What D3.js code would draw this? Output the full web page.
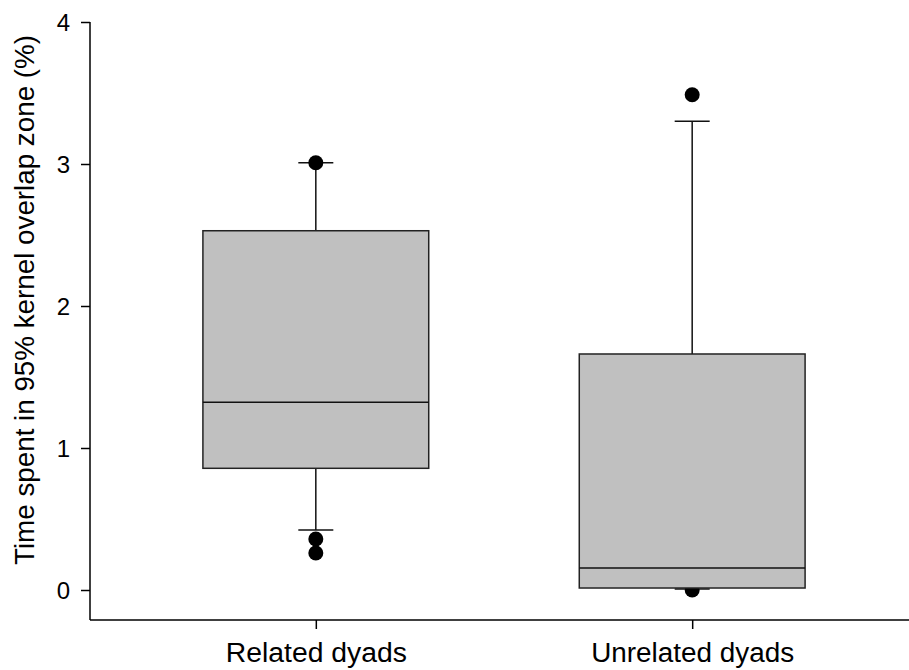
<!DOCTYPE html>
<meta charset="utf-8">
<style>
  body { margin: 0; background: #fff; }
  text { font-family: "Liberation Sans", Arial, sans-serif; fill: #000; }
</style>
<svg></svg>
<script src="https://cdn.jsdelivr.net/npm/d3@7/dist/d3.min.js"></script>
<script>

var groups = ['Related dyads', 'Unrelated dyads']
var groupLabelWidths = [181, 203]
var q1 = [0.857, 0.014]
var medians = [1.322, 0.155]
var q3 = [2.530, 1.662]
var whiskerLow = [0.423, 0.007]
var whiskerHigh = [3.009, 3.301]
var outliers = [[3.009, 0.359, 0.261], [3.488, 0.0]]
var yTicks = [0, 1, 2, 3, 4]

var width = 909,
    height = 670

var svg = d3.select('svg')
            .attr('width', width)
            .attr('height', height)

var x = d3.scalePoint().domain(groups).range([90, 918]).padding(0.6)
var y = d3.scaleLinear().domain([0, 4]).range([590, 22])

var boxW = x.step() * 0.6,
    capW = 35

var data = groups.map((g, i) => ({
    g: g, q1: q1[i], med: medians[i], q3: q3[i],
    lo: whiskerLow[i], hi: whiskerHigh[i], out: outliers[i]
}))

// axes
var gY = svg.append('g')
            .attr('transform', 'translate(90,0)')
            .call(d3.axisLeft(y).tickValues(yTicks).tickSize(9).tickPadding(11).tickFormat(d3.format('d')))
gY.select('.domain').remove()
gY.append('line').attr('x1', 0).attr('x2', 0).attr('y1', 22).attr('y2', 620)
    .attr('stroke', '#000').attr('stroke-width', 1.5)

var gX = svg.append('g')
            .attr('transform', 'translate(0,620)')
            .call(d3.axisBottom(x).tickSize(9).tickPadding(14))
gX.select('.domain').remove()
gX.append('line').attr('x1', 90).attr('x2', 918).attr('y1', 0).attr('y2', 0)
    .attr('stroke', '#000').attr('stroke-width', 1.5)

svg.selectAll('.tick line').attr('stroke', '#000').attr('stroke-width', 1.5)
gY.selectAll('.tick text').style('font-size', '24px').attr('dy', '0.35em')
gX.selectAll('.tick text').style('font-size', '27px').attr('dy', '0.71em')
    .attr('textLength', (d, i) => groupLabelWidths[i])
    .attr('lengthAdjust', 'spacingAndGlyphs')

svg.append('text')
    .attr('transform', 'translate(34,300) rotate(-90)')
    .attr('text-anchor', 'middle')
    .attr('textLength', 530)
    .attr('lengthAdjust', 'spacingAndGlyphs')
    .style('font-size', '27px')
    .text('Time spent in 95% kernel overlap zone (%)')

var box = svg.selectAll('.box').data(data).enter().append('g').attr('class', 'box')

// whiskers
box.append('line')
    .attr('x1', d => x(d.g)).attr('x2', d => x(d.g))
    .attr('y1', d => y(d.q3)).attr('y2', d => y(d.hi))
    .attr('stroke', '#111').attr('stroke-width', 1.5)
box.append('line')
    .attr('x1', d => x(d.g)).attr('x2', d => x(d.g))
    .attr('y1', d => y(d.q1)).attr('y2', d => y(d.lo))
    .attr('stroke', '#111').attr('stroke-width', 1.5)
box.selectAll('.cap').data(d => [[d.g, d.hi], [d.g, d.lo]]).enter().append('line')
    .attr('x1', d => x(d[0]) - capW / 2).attr('x2', d => x(d[0]) + capW / 2)
    .attr('y1', d => y(d[1])).attr('y2', d => y(d[1]))
    .attr('stroke', '#111').attr('stroke-width', 1.5)

// outliers (drawn under the box)
box.selectAll('circle').data(d => d.out.map(v => [d.g, v])).enter().append('circle')
    .attr('cx', d => x(d[0])).attr('cy', d => y(d[1])).attr('r', 7.5)
    .attr('fill', '#000')

box.append('rect')
    .attr('x', d => x(d.g) - boxW / 2).attr('width', boxW)
    .attr('y', d => y(d.q3)).attr('height', d => y(d.q1) - y(d.q3))
    .attr('fill', '#c0c0c0').attr('stroke', '#222').attr('stroke-width', 1.5)
box.append('line')
    .attr('x1', d => x(d.g) - boxW / 2).attr('x2', d => x(d.g) + boxW / 2)
    .attr('y1', d => y(d.med)).attr('y2', d => y(d.med))
    .attr('stroke', '#111').attr('stroke-width', 1.5)

</script>
